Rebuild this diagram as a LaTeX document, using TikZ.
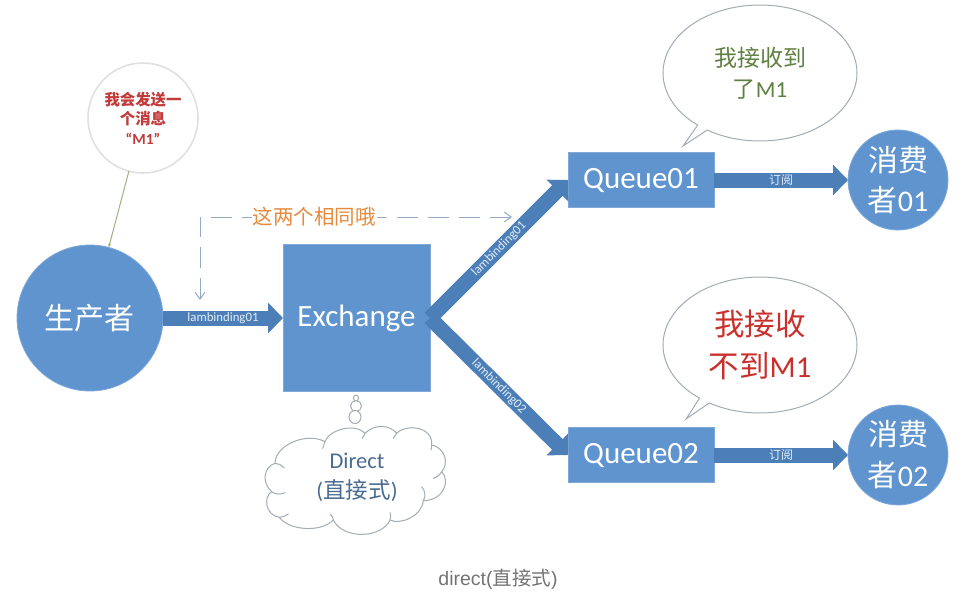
\documentclass[tikz,border=0pt]{standalone}
\usepackage{fontspec}
\setmainfont{Carlito}
\newfontfamily\cjk{Noto Sans CJK SC}
\newfontfamily\capfont{Liberation Sans}
\usetikzlibrary{arrows.meta,shapes.geometric,shapes.callouts}
\newcommand{\zh}[1]{{\cjk #1}}
\newcommand{\fs}[2]{\fontsize{#1}{#2}\selectfont}
\definecolor{boxblue}{HTML}{5F94CF}
\definecolor{arrowblue}{HTML}{4C7FB8}
\definecolor{edgeblue}{HTML}{7FA8D8}
\definecolor{bubbleline}{HTML}{A3ABB3}
\definecolor{softwhite}{HTML}{E3EDF8}
\definecolor{directtext}{HTML}{4A6B90}
\definecolor{dashblue}{HTML}{93A9C4}
\definecolor{stemgreen}{HTML}{9DB27E}
\definecolor{sameorange}{HTML}{E48B3D}
\definecolor{saygreen}{HTML}{5F8040}
\definecolor{sayred}{HTML}{C9302C}
\definecolor{msgred}{HTML}{C23A3A}
\tikzset{
  base/.style={inner sep=0pt,outer sep=0pt,align=center},
  bluebox/.style={base,rectangle,fill=boxblue,draw=edgeblue,line width=.6pt,text=white},
  bluecircle/.style={base,circle,fill=boxblue,draw=edgeblue,line width=.8pt,text=white},
  blockarrow/.style={draw=arrowblue,line width=15pt,-{Triangle[length=15pt,width=30pt,fill=arrowblue]}},
  arrowlabel/.style={base,text=softwhite,font=\fs{12.8}{14}},
  speech/.style={base,ellipse callout,fill=white,draw=bubbleline,line width=1pt,minimum width=194pt,minimum height=136pt,callout pointer arc=7},
  puff/.style={ellipse,fill=white,draw=bubbleline,line width=1pt,inner sep=0pt},
  cloudline/.style={draw=bubbleline,line width=1pt,line cap=round,line join=round},
}
\begin{document}
\begin{tikzpicture}[x=1pt,y=-1pt]
\useasboundingbox (0,0) rectangle (970,592);
% nodes
\node[bluecircle,minimum size=146pt,font=\fs{30}{36}] (prod) at (90,318) {\zh{生产者}};
\node[base,circle,fill=white,draw=black!12,line width=1.6pt,minimum size=110pt,text=msgred,font=\fs{15.4}{19.6}] (msg) at (143,118) {\zh{\bfseries 我会发送一}\\\zh{\bfseries 个消息}\\\textbf{“M1”}};
\node[bluebox,minimum width=147pt,minimum height=147pt,font=\fs{31}{36}] (ex) at (356.5,318) {Exchange};
\node[bluebox,minimum width=146pt,minimum height=55pt,font=\fs{31}{36}] (q1) at (641,180) {Queue01};
\node[bluebox,minimum width=146pt,minimum height=55pt,font=\fs{31}{36}] (q2) at (641,455) {Queue02};
\node[bluecircle,minimum size=100pt,font=\fs{30}{40}] (c1) at (898,180) {\zh{消费}\\\zh{者}01};
\node[bluecircle,minimum size=100pt,font=\fs{30}{41}] (c2) at (898,455) {\zh{消费}\\\zh{者}02};
% speech bubbles
\node[speech,callout absolute pointer={(683,146)},text=saygreen,font=\fs{23}{31}] (say1) at (760,73) {\zh{我接收到}\\\zh{了}M1};
\node[speech,callout absolute pointer={(686,419)},text=sayred,font=\fs{30.5}{42}] (say2) at (760,345) {\zh{我接收}\\\zh{不到}M1};
% thought puffs and cloud
\node[puff,minimum width=5pt,minimum height=6pt] (p1) at (356,398) {};
\node[puff,minimum width=11pt,minimum height=11pt] (p2) at (356,406) {};
\node[puff,minimum width=12pt,minimum height=13pt] (p3) at (355,417) {};
\begin{scope}[shift={(250,370)},x=.33333pt,y=-.33333pt]
\draw[cloudline,fill=white] (75,280) .. controls (75,225) and (170,185) .. (225,215)
  .. controls (240,175) and (320,160) .. (345,190)
  .. controls (375,160) and (420,165) .. (440,190)
  .. controls (470,160) and (550,170) .. (545,225)
  .. controls (590,235) and (595,285) .. (575,305)
  .. controls (600,330) and (585,390) .. (520,392)
  .. controls (515,440) and (450,465) .. (420,450)
  .. controls (395,505) and (280,510) .. (250,450)
  .. controls (210,490) and (115,480) .. (88,442)
  .. controls (45,435) and (40,380) .. (65,365)
  .. controls (35,340) and (40,290) .. (75,280) -- cycle;
\draw[cloudline] (75,280) .. controls (85,280) and (95,285) .. (102,293);
\draw[cloudline] (225,215) .. controls (222,222) and (220,230) .. (218,235);
\draw[cloudline] (345,190) .. controls (343,196) and (340,200) .. (337,205);
\draw[cloudline] (440,190) .. controls (437,196) and (434,200) .. (430,205);
\draw[cloudline] (545,225) .. controls (545,230) and (544,236) .. (543,240);
\draw[cloudline] (575,305) .. controls (570,314) and (560,322) .. (550,325);
\draw[cloudline] (520,392) .. controls (528,380) and (526,362) .. (515,350);
\draw[cloudline] (420,450) .. controls (423,443) and (423,435) .. (420,428);
\draw[cloudline] (250,450) .. controls (250,444) and (246,436) .. (240,432);
\draw[cloudline] (88,442) .. controls (97,442) and (107,438) .. (115,432);
\draw[cloudline] (65,365) .. controls (75,373) and (92,375) .. (105,368);
\end{scope}
\node[base,text=directtext,font=\fs{22.5}{30}] (cl) at (357,477) {Direct\\(\zh{直接式})};
% connectors
\draw[blockarrow] (prod.east) -- node[arrowlabel]{lambinding01} (ex.west);
\draw[blockarrow] (ex.east) -- node[arrowlabel,sloped]{lambinding01} (q1.west);
\draw[blockarrow] (ex.east) -- node[arrowlabel,sloped]{lambinding02} (q2.west);
\draw[blockarrow] (q1.east) -- node[arrowlabel,font=\fs{12}{14}]{\zh{订阅}} (c1.west);
\draw[blockarrow] (q2.east) -- node[arrowlabel,font=\fs{12}{14}]{\zh{订阅}} (c2.west);
\draw[draw=stemgreen,line width=1pt,-{Stealth[length=4pt,width=3pt]}] (msg) -- (prod);
% dashed same-binding marker
\coordinate (dA) at (200,300);
\coordinate (dB) at (200,217);
\coordinate (dC) at (512,217);
\draw[draw=dashblue,line width=1pt,dash pattern=on 21pt off 10pt,{Straight Barb[length=7pt,width=10pt]}-{Straight Barb[length=7pt,width=10pt]}] (dA) -- (dB) -- (dC);
\node[base,fill=white,inner xsep=1pt,inner ysep=1pt,text=sameorange,font=\fs{20.5}{24}] (same) at (314,217) {\zh{这两个相同哦}};
% caption
\node[base,text=black!55,font=\fs{19.5}{24}] (cap) at (498,579) {{\capfont direct(}\zh{直接式}{\capfont )}};
\end{tikzpicture}
\end{document}
